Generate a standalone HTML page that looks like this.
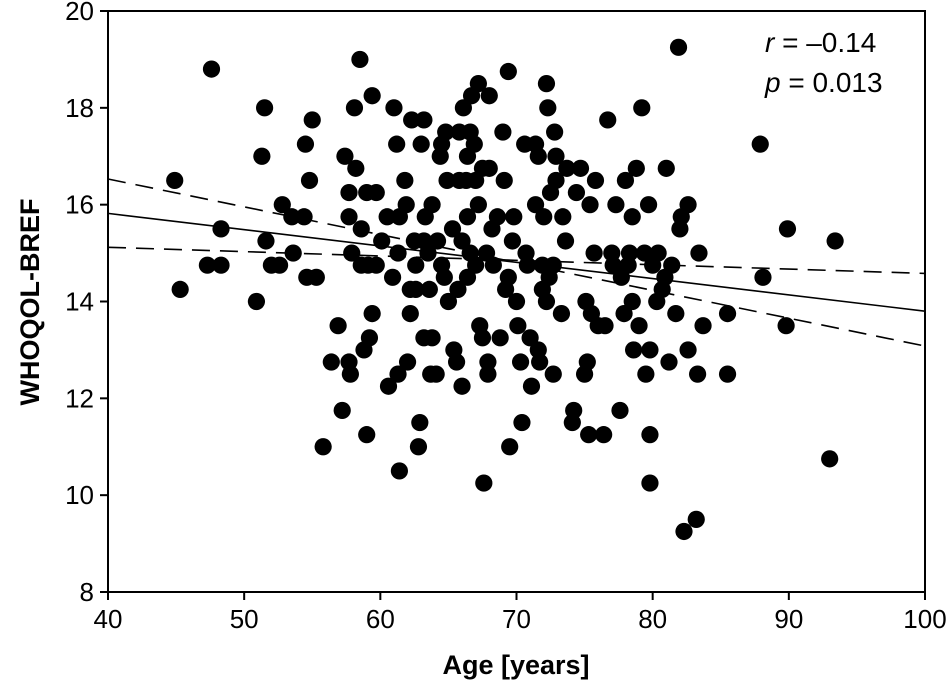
<!DOCTYPE html>
<html><head><meta charset="utf-8"><style>
html,body{margin:0;padding:0;background:#fff;}
svg text{font-family:"Liberation Sans",sans-serif;fill:#000;}
</style></head><body>
<svg id="chart" width="949" height="691" viewBox="0 0 949 691" xmlns="http://www.w3.org/2000/svg"></svg>
<script>
const xTicks=[40,50,60,70,80,90,100];
const yTicks=[8,10,12,14,16,18,20];
const ages=[44.9,45.3,47.6,47.3,48.3,48.3,50.9,51.3,51.5,51.6,52.0,52.6,52.8,53.5,53.6,54.4,54.5,54.6,54.8,55.0,55.3,55.8,56.4,56.9,57.2,57.4,57.7,57.7,57.7,57.8,57.9,58.1,58.2,58.5,58.6,58.6,58.8,59.0,59.0,59.1,59.2,59.4,59.4,59.7,59.7,60.1,60.5,60.6,60.9,61.0,61.2,61.3,61.3,61.4,61.4,61.8,61.9,62.0,62.2,62.2,62.3,62.5,62.6,62.6,62.8,62.9,63.0,63.2,63.2,63.2,63.3,63.5,63.6,63.7,63.8,63.8,64.1,64.2,64.4,64.5,64.5,64.7,64.8,64.9,65.0,65.3,65.4,65.6,65.7,65.8,65.8,66.0,66.0,66.1,66.3,66.4,66.4,66.4,66.6,66.6,66.7,66.9,67.0,67.0,67.2,67.2,67.3,67.5,67.5,67.6,67.8,67.9,67.9,68.0,68.0,68.2,68.3,68.6,68.8,69.0,69.1,69.2,69.4,69.4,69.5,69.7,69.8,70.0,70.1,70.3,70.4,70.6,70.7,70.8,71.0,71.1,71.4,71.4,71.6,71.6,71.7,71.9,71.9,72.0,72.2,72.2,72.3,72.4,72.5,72.7,72.7,72.8,72.9,72.9,73.3,73.4,73.6,73.7,74.1,74.2,74.4,74.7,75.0,75.1,75.2,75.3,75.4,75.5,75.7,75.8,76.0,76.4,76.5,76.7,77.0,77.1,77.3,77.6,77.7,77.9,78.0,78.2,78.3,78.5,78.5,78.6,78.8,79.0,79.2,79.4,79.5,79.7,79.8,79.8,79.8,80.0,80.3,80.4,80.7,80.9,81.0,81.2,81.4,81.7,81.9,82.0,82.1,82.3,82.6,82.6,83.2,83.3,83.4,83.7,85.5,85.5,87.9,88.1,89.8,89.9,93.4,93.0];
const scores=[16.5,14.25,18.8,14.75,14.75,15.5,14.0,17.0,18.0,15.25,14.75,14.75,16.0,15.75,15.0,15.75,17.25,14.5,16.5,17.75,14.5,11.0,12.75,13.5,11.75,17.0,16.25,15.75,12.75,12.5,15.0,18.0,16.75,19.0,15.5,14.75,13.0,16.25,11.25,14.75,13.25,18.25,13.75,16.25,14.75,15.25,15.75,12.25,14.5,18.0,17.25,15.0,12.5,10.5,15.75,16.5,16.0,12.75,14.25,13.75,17.75,15.25,14.75,14.25,11.0,11.5,17.25,17.75,15.25,13.25,15.75,15.0,14.25,12.5,16.0,13.25,12.5,15.25,17.0,17.25,14.75,14.5,17.5,16.5,14.0,15.5,13.0,12.75,14.25,16.5,17.5,15.25,12.25,18.0,16.5,17.0,15.75,14.5,17.5,15.0,18.25,17.25,16.5,14.75,18.5,16.0,13.5,16.75,13.25,10.25,15.0,12.75,12.5,18.25,16.75,15.5,14.75,15.75,13.25,17.5,16.5,14.25,18.75,14.5,11.0,15.25,15.75,14.0,13.5,12.75,11.5,17.25,15.0,14.75,13.25,12.25,17.25,16.0,17.0,13.0,12.75,14.75,14.25,15.75,18.5,14.0,18.0,14.5,16.25,12.5,14.75,17.5,17.0,16.5,13.75,15.75,15.25,16.75,11.5,11.75,16.25,16.75,12.5,14.0,12.75,11.25,16.0,13.75,15.0,16.5,13.5,11.25,13.5,17.75,15.0,14.75,16.0,11.75,14.5,13.75,16.5,14.75,15.0,14.0,15.75,13.0,16.75,13.5,18.0,15.0,12.5,16.0,13.0,11.25,10.25,14.75,14.0,15.0,14.25,14.5,16.75,12.75,14.75,13.75,19.25,15.5,15.75,9.25,16.0,13.0,9.5,12.5,15.0,13.5,12.5,13.75,17.25,14.5,13.5,15.5,15.25,10.75];
const fitX=[40,100];
const fitY=[15.82,13.8];
const ciUpperY=[16.53,14.58];
const ciLowerY=[15.12,13.08];

const L=108,R=925,T=11,B=592;
const sx=v=>L+(v-40)/60*(R-L);
const sy=v=>B-(v-8)/12*(B-T);
const svg=document.getElementById('chart');
const NS='http://www.w3.org/2000/svg';
function mk(tag,attrs,parent){const e=document.createElementNS(NS,tag);for(const k in attrs)e.setAttribute(k,attrs[k]);(parent||svg).appendChild(e);return e;}

const gp=mk('g',{});


ages.forEach((a,i)=>{
  const c=mk('circle',{cx:sx(a),cy:sy(scores[i]),r:8.6,fill:'#000'},gp);
  
  
});
const fit=mk('line',{x1:sx(fitX[0]),y1:sy(fitY[0]),x2:sx(fitX[1]),y2:sy(fitY[1]),stroke:'#000','stroke-width':1.6});


const cu=mk('line',{x1:sx(fitX[0]),y1:sy(ciUpperY[0]),x2:sx(fitX[1]),y2:sy(ciLowerY[1]),stroke:'#000','stroke-width':1.6,'stroke-dasharray':'18,10'});


const cl=mk('line',{x1:sx(fitX[0]),y1:sy(ciLowerY[0]),x2:sx(fitX[1]),y2:sy(ciUpperY[1]),stroke:'#000','stroke-width':1.6,'stroke-dasharray':'18,10'});



const fr=mk('rect',{x:L,y:T,width:R-L,height:B-T,fill:'none',stroke:'#000','stroke-width':2});



xTicks.forEach(v=>{
  const t=mk('line',{x1:sx(v),y1:B,x2:sx(v),y2:B+8,stroke:'#000','stroke-width':2});
  
  
  const l=mk('text',{x:sx(v),y:B+36,'text-anchor':'middle','font-size':26});
  l.textContent=v;
  
  
});
yTicks.forEach(v=>{
  const t=mk('line',{x1:L-8,y1:sy(v),x2:L,y2:sy(v),stroke:'#000','stroke-width':2});
  
  
  const l=mk('text',{x:L-14,y:sy(v)+9,'text-anchor':'end','font-size':26});
  l.textContent=v;
  
  
});
const xt=mk('text',{x:516,y:674,'text-anchor':'middle','font-size':27,'font-weight':'bold'});
xt.textContent='Age [years]';


const yt=mk('text',{x:0,y:0,'text-anchor':'middle','font-size':27,'font-weight':'bold',transform:'translate(39,302) rotate(-90)'});
yt.textContent='WHOQOL-BREF';


const r1=mk('text',{x:765,y:52,'font-size':28});
r1.innerHTML='<tspan font-style="italic">r</tspan> = –0.14';


const r2=mk('text',{x:765,y:92,'font-size':28});
r2.innerHTML='<tspan font-style="italic">p</tspan> = 0.013';


</script>
</body></html>
